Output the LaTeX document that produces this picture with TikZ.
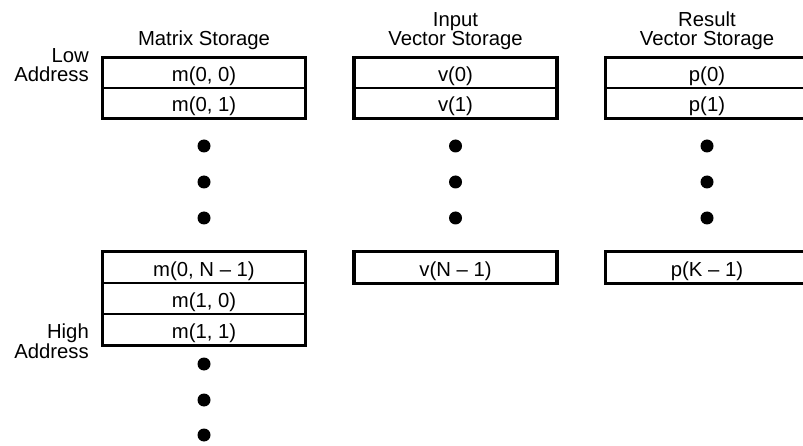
\documentclass[tikz,border=0pt]{standalone}
\usepackage{fontspec}
\setmainfont{Liberation Sans}
\begin{document}
\begin{tikzpicture}[x=1pt,y=-1pt,
  every node/.style={font=\fontsize{20.3}{20}\selectfont},
  cell/.style={draw=black,line width=1.3pt,minimum width=202pt,minimum height=30pt,
    inner xsep=0pt,inner ysep=0pt,text height=17.5pt,text depth=0pt},
  tallcell/.style={cell,minimum height=31pt},
  outer/.style={draw=black,line width=3.6pt},
  dot/.style={circle,fill=black,inner sep=0pt,minimum size=13pt},
  lbl/.style={inner sep=0pt}]
\clip (0,0) rectangle (803,446);
\fill[white] (0,0) rectangle (803,446);

% headers
\node[lbl,anchor=base] (hm) at (204,45.5) {Matrix Storage};
\node[lbl,anchor=base] (hi1) at (455.5,27) {Input};
\node[lbl,anchor=base] (hi2) at (455.5,45.5) {Vector Storage};
\node[lbl,anchor=base] (hr1) at (707,27) {Result};
\node[lbl,anchor=base] (hr2) at (707,45.5) {Vector Storage};

% address labels
\node[lbl,anchor=base east] (low1) at (89,62.5) {Low};
\node[lbl,anchor=base east] (low2) at (89,82) {Address};
\node[lbl,anchor=base east] (high1) at (89,338) {High};
\node[lbl,anchor=base east] (high2) at (89,358) {Address};

% matrix storage
\node[cell] (m00) at (204,73) {m(0, 0)};
\node[cell] (m01) at (204,103) {m(0, 1)};
\draw[outer] (m00.north west) rectangle (m01.south east);
\node[tallcell] (m0n) at (204,267.5) {m(0, N – 1)};
\node[tallcell] (m10) at (204,298.5) {m(1, 0)};
\node[tallcell] (m11) at (204,329.5) {m(1, 1)};
\draw[outer] (m0n.north west) rectangle (m11.south east);

% input vector
\node[cell] (v0) at (455.5,73) {v(0)};
\node[cell] (v1) at (455.5,103) {v(1)};
\draw[outer] (v0.north west) rectangle (v1.south east);
\node[tallcell] (vn) at (455.5,267.5) {v(N – 1)};
\draw[outer] (vn.north west) rectangle (vn.south east);

% result vector
\node[cell] (p0) at (707,73) {p(0)};
\node[cell] (p1) at (707,103) {p(1)};
\draw[outer] (p0.north west) rectangle (p1.south east);
\node[tallcell] (pk) at (707,267.5) {p(K – 1)};
\draw[outer] (pk.north west) rectangle (pk.south east);

% dots
\foreach \x/\n in {204/m,455.5/v,707/p}{
  \node[dot] (\n d1) at (\x,146) {};
  \node[dot] (\n d2) at (\x,182) {};
  \node[dot] (\n d3) at (\x,218) {};
}
\node[dot] (md4) at (204,364) {};
\node[dot] (md5) at (204,400) {};
\node[dot] (md6) at (204,435) {};
\end{tikzpicture}
\end{document}
